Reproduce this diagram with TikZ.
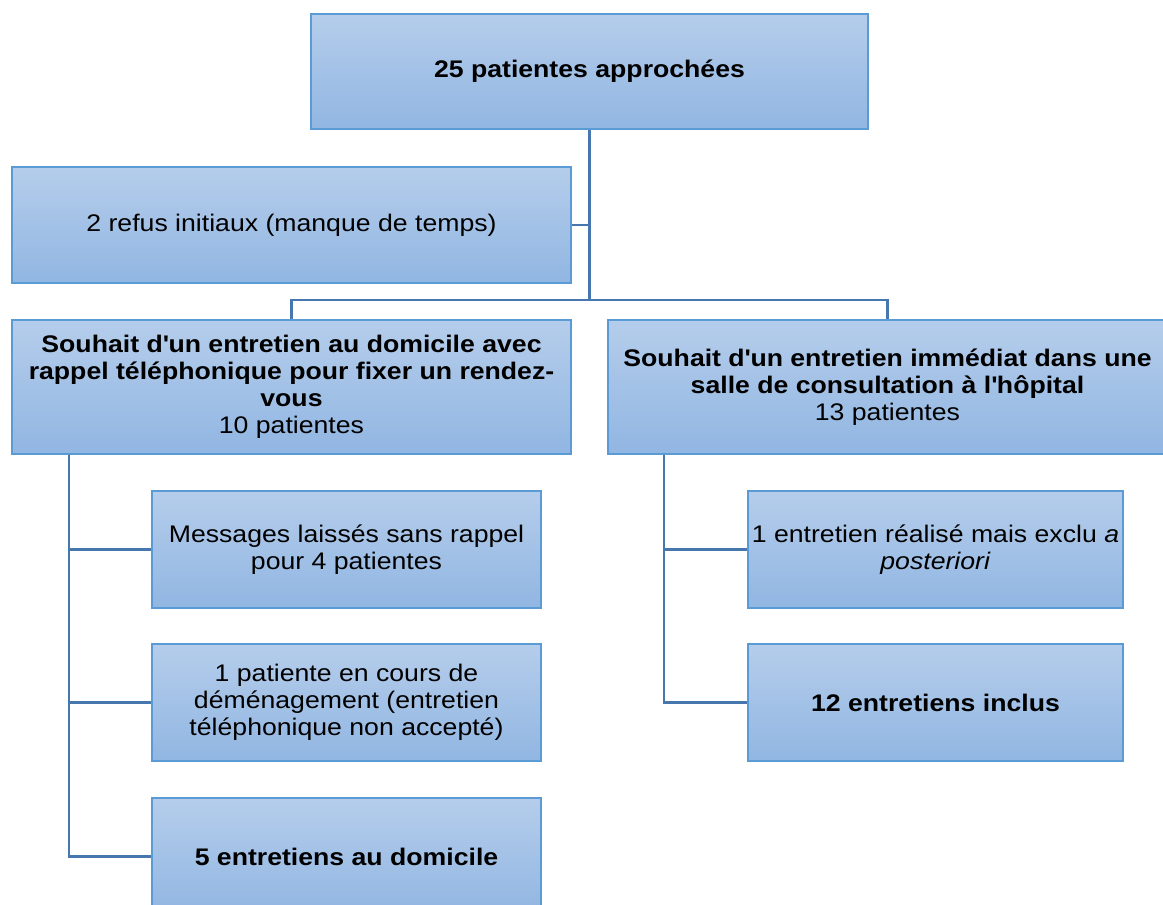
\documentclass[tikz,border=0pt]{standalone}
\usepackage{fontspec}
\setmainfont{Liberation Sans}[FakeStretch=1.11]
\definecolor{boxedge}{RGB}{91,155,213}
\definecolor{boxtop}{RGB}{181,205,235}
\definecolor{boxbot}{RGB}{145,182,226}
\definecolor{linkcol}{RGB}{70,120,175}
\newcommand{\apos}{\textquotesingle}
\tikzset{
  flowbox/.style={draw=boxedge, line width=2.5pt, top color=boxtop, bottom color=boxbot,
    align=center, inner sep=0pt, font=\fontsize{24}{27}\selectfont},
  widebox/.style={flowbox, minimum width=559, minimum height=#1},
  subbox/.style={flowbox, minimum width=389, minimum height=117},
  link/.style={draw=linkcol, line width=2.5pt}
}
\begin{document}
\begin{tikzpicture}[x=1pt,y=-1pt]
  \useasboundingbox (0,0) rectangle (1163,905);
  \clip (0,0) rectangle (1163,905);
  % boxes
  \node[flowbox, minimum width=557, minimum height=115] (total) at (589.5,71.5) {\textbf{25 patientes approchées}};
  \node[widebox=116] (refus) at (291.5,225) {2 refus initiaux (manque de temps)};
  \node[widebox=134] (domicile) at (291.5,387) {\textbf{Souhait d\apos un entretien au domicile avec}\\\textbf{rappel téléphonique pour fixer un rendez-}\\\textbf{vous}\\10 patientes};
  \node[widebox=134] (hopital) at (887.5,387) {\textbf{Souhait d\apos un entretien immédiat dans une}\\\textbf{salle de consultation à l\apos hôpital}\\13 patientes};
  \node[subbox] (messages) at (346.5,549.5) {Messages laissés sans rappel\\pour 4 patientes};
  \node[subbox] (demenage) at (346.5,702.5) {1 patiente en cours de\\déménagement (entretien\\téléphonique non accepté)};
  \node[subbox] (domok) at (346.5,856.5) {\textbf{5 entretiens au domicile}};
  \node[subbox, minimum width=375] (exclu) at (935.5,549.5) {1 entretien réalisé mais exclu \textit{a}\\\textit{posteriori}};
  \node[subbox, minimum width=375] (inclus) at (935.5,702.5) {\textbf{12 entretiens inclus}};
  % connectors
  \coordinate (split) at (589.5,300);
  \coordinate (lbar) at (69,0);
  \coordinate (rbar) at (664,0);
  \draw[link] (total.south) -- (split);
  \draw[link] (refus.east) -- (refus.east -| split);
  \draw[link] (domicile.north) -- (domicile.north |- split) -- (hopital.north |- split) -- (hopital.north);
  \draw[link] (domicile.south -| lbar) |- (domok.west);
  \draw[link] (messages.west -| lbar) -- (messages.west);
  \draw[link] (demenage.west -| lbar) -- (demenage.west);
  \draw[link] (hopital.south -| rbar) |- (inclus.west);
  \draw[link] (exclu.west -| rbar) -- (exclu.west);
\end{tikzpicture}
\end{document}
